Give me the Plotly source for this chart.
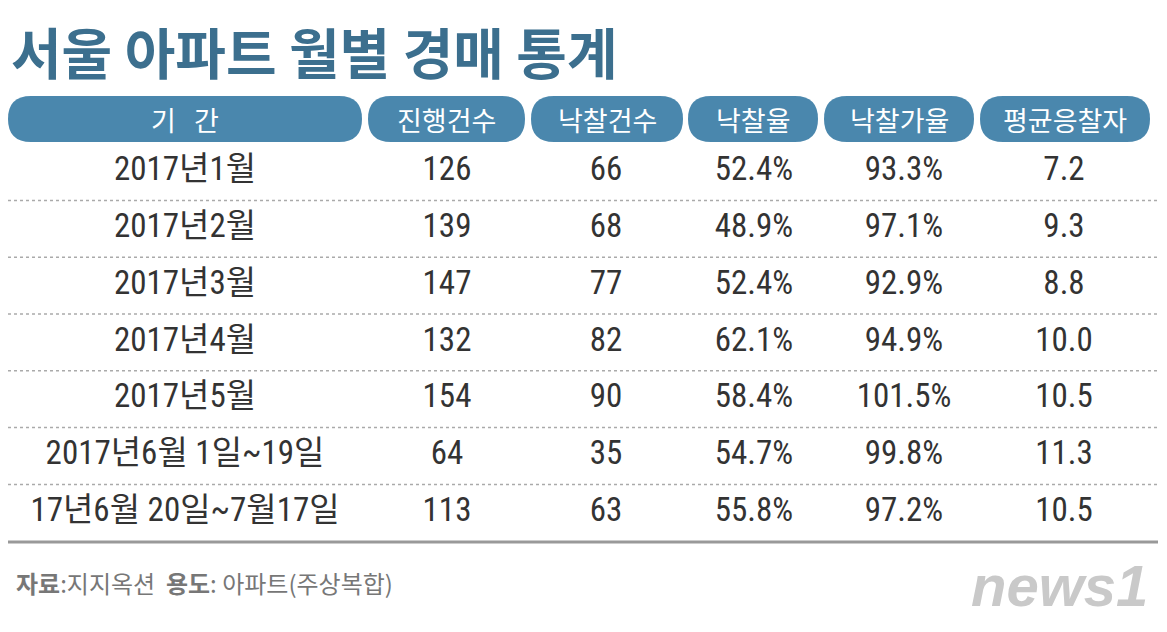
import plotly.graph_objects as go

title = "서울 아파트 월별 경매 통계"
headers = ["기   간", "진행건수", "낙찰건수", "낙찰율", "낙찰가율", "평균응찰자"]
periods = ["2017년1월", "2017년2월", "2017년3월", "2017년4월", "2017년5월",
           "2017년6월 1일~19일", "17년6월 20일~7월17일"]
cases = ["126", "139", "147", "132", "154", "64", "113"]
won = ["66", "68", "77", "82", "90", "35", "63"]
win_rate = ["52.4%", "48.9%", "52.4%", "62.1%", "58.4%", "54.7%", "55.8%"]
price_rate = ["93.3%", "97.1%", "92.9%", "94.9%", "101.5%", "99.8%", "97.2%"]
bidders = ["7.2", "9.3", "8.8", "10.0", "10.5", "11.3", "10.5"]

W, H = 1167, 632
OFF = 8  # page body margin
col_x = [185, 447, 606, 754, 904, 1064]
pill = [(8, 362), (368, 525), (531, 683), (688, 818), (824, 974), (980, 1150)]
row_y0, row_dy = 172, 56.8
FONT = "Noto Sans CJK KR"
BLUE = "#4a87ad"

fig = go.Figure()
shapes, ann = [], []

def pill_path(x0, x1, y0, y1):
    r = (y1 - y0) / 2
    return (f"M{x0+r},{y0} L{x1-r},{y0} Q{x1},{y0} {x1},{y0+r} Q{x1},{y1} {x1-r},{y1} "
            f"L{x0+r},{y1} Q{x0},{y1} {x0},{y0+r} Q{x0},{y0} {x0+r},{y0} Z")

for (x0, x1), h, cx in zip(pill, headers, col_x):
    shapes.append(dict(type="path", path=pill_path(x0, x1, 96, 142), xref="x", yref="y",
                       fillcolor=BLUE, line=dict(width=0)))
    ann.append(dict(x=(x0 + x1) / 2, y=119, text=h, showarrow=False, xref="x", yref="y",
                    font=dict(family=FONT, size=27, color="white")))

cols = [periods, cases, won, win_rate, price_rate, bidders]
xs, ys, ts = [], [], []
for ci, col in enumerate(cols):
    for ri, v in enumerate(col):
        xs.append(col_x[ci]); ys.append(row_y0 + ri * row_dy); ts.append(v)
fig.add_trace(go.Scatter(x=xs, y=ys, text=ts, mode="text", hoverinfo="skip",
                         textfont=dict(family="Roboto Condensed, Liberation Sans Narrow, " + FONT,
                                       size=33, color="#333333")))

for ri in range(len(periods) - 1):
    y = row_y0 + (ri + 0.5) * row_dy
    shapes.append(dict(type="line", x0=8, x1=1158, y0=y, y1=y, xref="x", yref="y",
                       line=dict(color="#aaaaaa", width=1.5, dash="dot")))
shapes.append(dict(type="line", x0=8, x1=1158, y0=542, y1=542, xref="x", yref="y",
                   line=dict(color="#999999", width=3)))

ann.append(dict(x=9, y=50, text=f"<b>{title}</b>", showarrow=False, xanchor="left", xref="x", yref="y",
                font=dict(family=FONT, size=55, color="#3c6f8e")))
ann.append(dict(x=14, y=582, text="<b>자료</b>:지지옥션  <b>용도</b>: 아파트(주상복합)", showarrow=False,
                xanchor="left", xref="x", yref="y", font=dict(family=FONT, size=24, color="#777777")))
ann.append(dict(x=1150, y=585, text="<b><i>news</i></b><b><i>1</i></b>", showarrow=False, xanchor="right",
                xref="x", yref="y", font=dict(family="Liberation Sans", size=58, color="#c9c9c9")))

fig.update_layout(width=W - OFF, height=H - OFF, margin=dict(l=0, r=0, t=0, b=0), showlegend=False,
                  plot_bgcolor="white", paper_bgcolor="white", shapes=shapes, annotations=ann,
                  xaxis=dict(range=[OFF, W], visible=False, fixedrange=True),
                  yaxis=dict(range=[H, OFF], visible=False, fixedrange=True))
fig.write_html("out.html")
